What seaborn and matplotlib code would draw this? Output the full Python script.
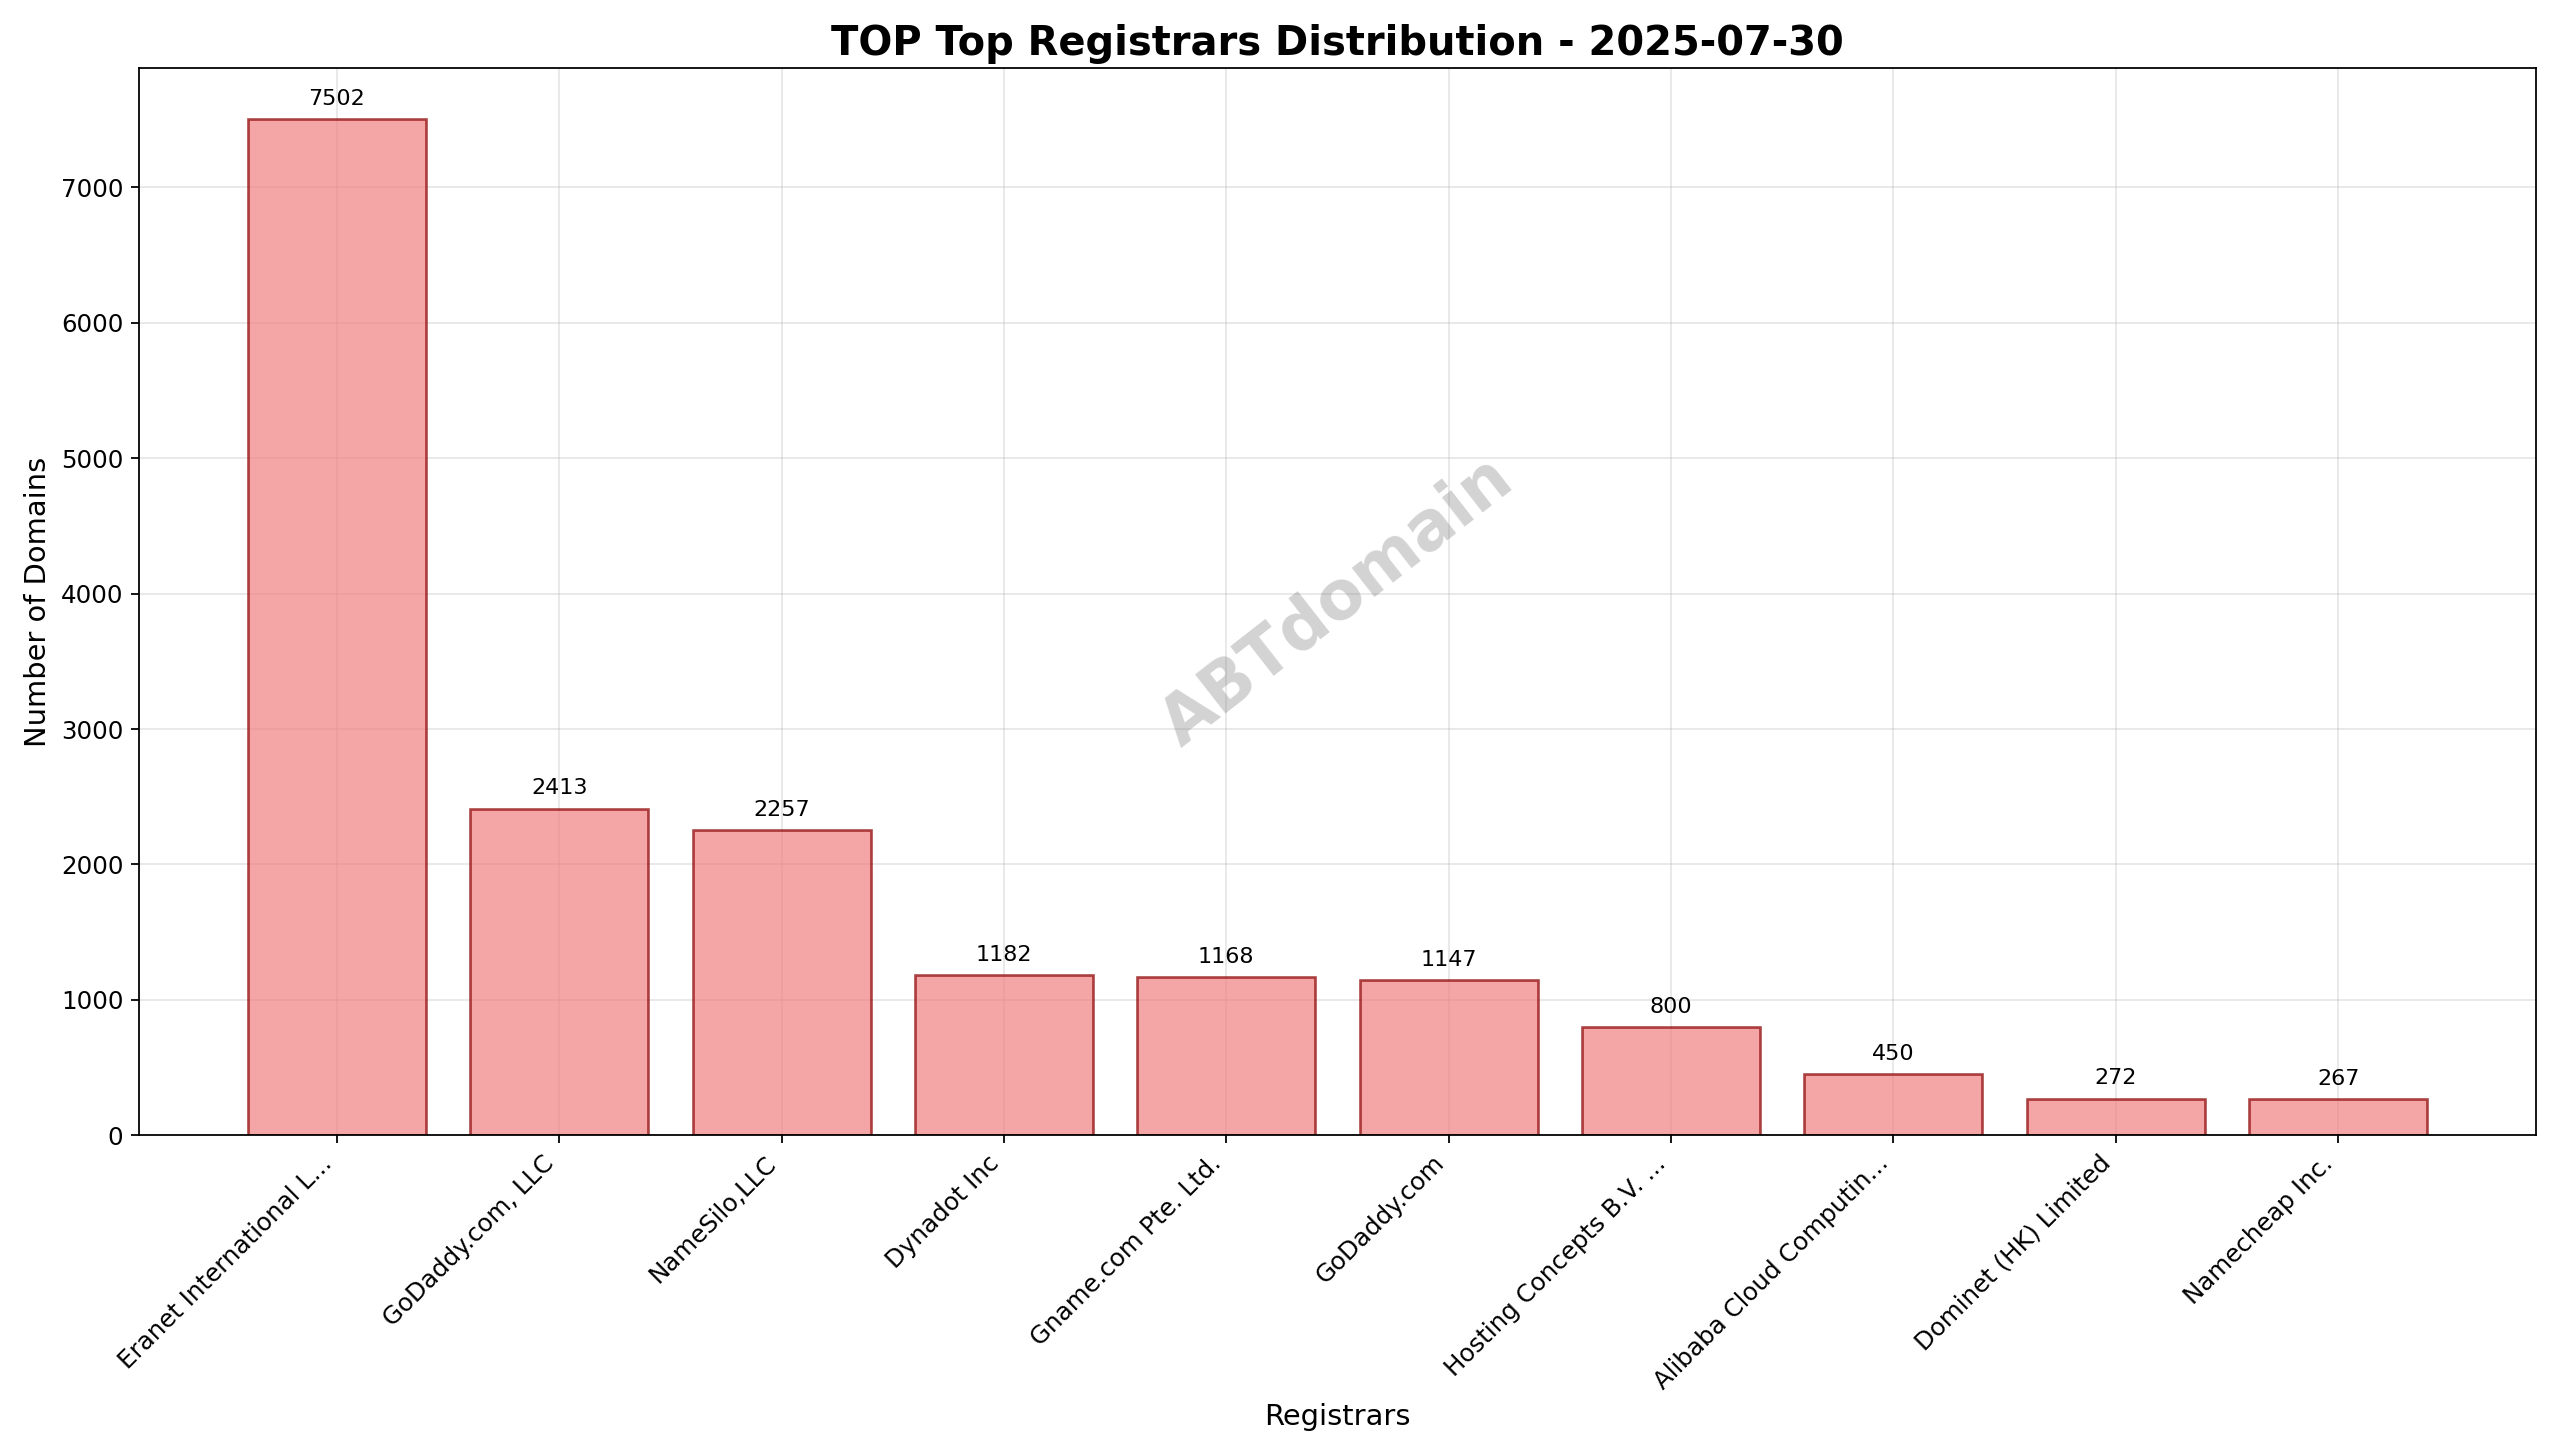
import matplotlib
matplotlib.use("Agg")
import matplotlib.pyplot as plt
import pandas as pd
import seaborn as sns

REGISTRARS = [
    "Eranet International L...",
    "GoDaddy.com, LLC",
    "NameSilo,LLC",
    "Dynadot Inc",
    "Gname.com Pte. Ltd.",
    "GoDaddy.com",
    "Hosting Concepts B.V. ...",
    "Alibaba Cloud Computin...",
    "Dominet (HK) Limited",
    "Namecheap Inc.",
]
COUNTS = [7502, 2413, 2257, 1182, 1168, 1147, 800, 450, 272, 267]

data = pd.DataFrame({"registrar": REGISTRARS, "count": COUNTS})

fig, ax = plt.subplots(figsize=(16, 9.094), dpi=160)
sns.barplot(
    data=data, x="registrar", y="count", ax=ax,
    color="lightcoral", alpha=0.7, edgecolor="darkred", linewidth=1.2,
    width=0.8, saturation=1,
)
for p in ax.patches:
    p.set_edgecolor("darkred")
    p.set_alpha(0.7)
for i, v in enumerate(COUNTS):
    ax.text(i, v + 75, str(v), ha="center", va="bottom", fontsize=10)

ax.set_xlim(-0.89, len(REGISTRARS) - 0.11)
ax.grid(True, alpha=0.3)
ax.set_axisbelow(True)
ax.set_title("TOP Top Registrars Distribution - 2025-07-30", fontsize=18, fontweight="bold")
ax.set_xlabel("Registrars", fontsize=13)
ax.set_ylabel("Number of Domains", fontsize=13)
plt.setp(ax.get_xticklabels(), rotation=45, ha="right", fontsize=11)
ax.tick_params(axis="y", labelsize=11)
ax.text(0.5, 0.5, "ABTdomain", transform=ax.transAxes, fontsize=30, color="gray",
        alpha=0.35, fontweight="bold", rotation=38, ha="center", va="center")
fig.tight_layout()
fig.savefig("out.png", dpi=160)
